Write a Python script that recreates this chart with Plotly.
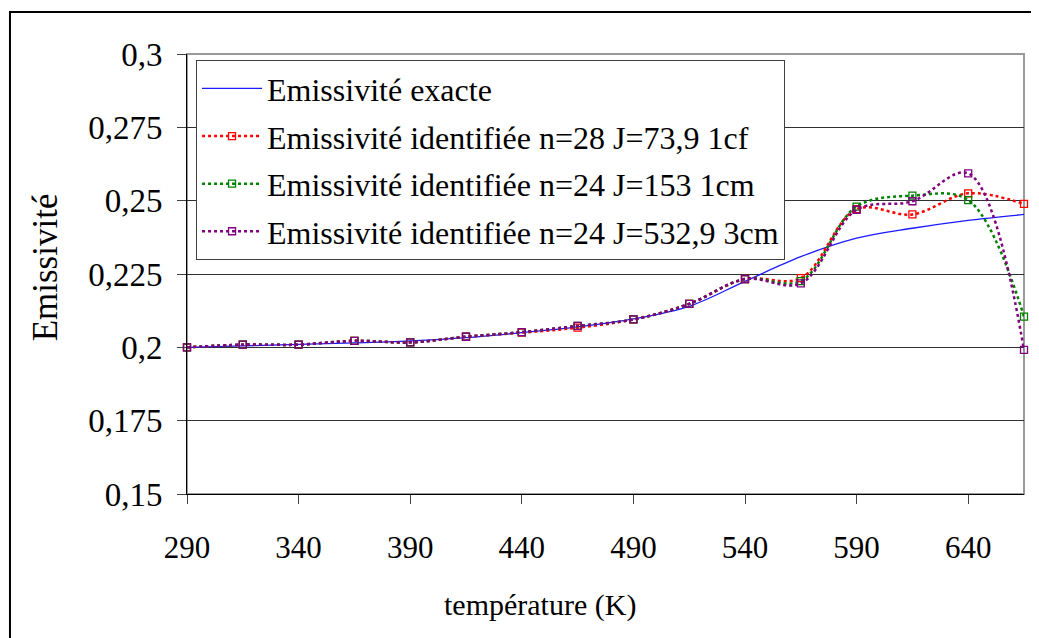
import plotly.graph_objects as go

# temperatures (K)
temperature = [290, 315, 340, 365, 390, 415, 440, 465, 490, 515, 540, 565, 590, 615, 640, 665]

exact = [0.2000, 0.2005, 0.2010, 0.2015, 0.2022, 0.2033, 0.2050, 0.2070, 0.2097, 0.2140,
         0.2225, 0.2309, 0.2372, 0.2406, 0.2433, 0.2453]
ident_28 = [0.2000, 0.2009, 0.2009, 0.2022, 0.2017, 0.2036, 0.2050, 0.2067, 0.2095, 0.2148,
            0.2233, 0.2236, 0.2471, 0.2453, 0.2525, 0.2489]
ident_24_1cm = [0.2000, 0.2009, 0.2009, 0.2022, 0.2017, 0.2036, 0.2052, 0.2073, 0.2095, 0.2148,
                0.2233, 0.2226, 0.2480, 0.2517, 0.2502, 0.2105]
ident_24_3cm = [0.2000, 0.2009, 0.2009, 0.2022, 0.2017, 0.2036, 0.2052, 0.2073, 0.2095, 0.2148,
                0.2233, 0.2218, 0.2469, 0.2498, 0.2593, 0.1991]

names = ['Emissivité exacte',
         'Emissivité identifiée n=28 J=73,9 1cf',
         'Emissivité identifiée n=24 J=153 1cm',
         'Emissivité identifiée n=24 J=532,9 3cm']

y_tick_vals = [0.15, 0.175, 0.2, 0.225, 0.25, 0.275, 0.3]
y_tick_text = ['0,15', '0,175', '0,2', '0,225', '0,25', '0,275', '0,3']
x_tick_vals = [290, 340, 390, 440, 490, 540, 590, 640]

FONT = 'Liberation Serif'

fig = go.Figure()
fig.add_trace(go.Scatter(x=temperature, y=exact, name=names[0], mode='lines',
                         line=dict(color='#1a1aff', width=1.3, shape='spline'),
                         legendgroup='a', cliponaxis=False))
series = [(ident_28, '#ff0000', 'b'), (ident_24_1cm, '#008000', 'c'), (ident_24_3cm, '#800080', 'd')]
for (vals, col, grp), nm in zip(series, names[1:]):
    fig.add_trace(go.Scatter(x=temperature, y=vals, name=nm, mode='lines+markers',
                             line=dict(color=col, width=2.5, dash='dot', shape='spline'),
                             marker=dict(symbol='square-open', size=7, color=col,
                                         line=dict(width=1.3, color=col)),
                             legendgroup=grp, cliponaxis=False))

# page has an 8px body margin, so the figure is 8px smaller than the window
fig.update_layout(
    width=1031, height=630,
    margin=dict(l=179, r=15, t=46, b=144),
    paper_bgcolor='white', plot_bgcolor='white',
    font=dict(family=FONT, size=32, color='black'),
    separators=', ',
    legend=dict(x=0.0108, y=0.986, xanchor='left', yanchor='top',
                bgcolor='white', bordercolor='#404040', borderwidth=1,
                font=dict(family=FONT, size=32, color='black'), traceorder='grouped',
                tracegroupgap=3, itemwidth=60),
    shapes=[
        dict(type='rect', xref='paper', yref='paper', x0=0, x1=1, y0=0, y1=1,
             line=dict(color='#9a9a9a', width=2), layer='below'),
        dict(type='rect', xref='paper', yref='paper', x0=-0.2115, x1=1.03, y0=-0.35, y1=1.0955,
             line=dict(color='black', width=2), layer='below'),
    ],
    annotations=[
        dict(text='température (K)', xref='paper', yref='paper', x=0.4217, y=-0.2523,
             xanchor='center', yanchor='middle', showarrow=False,
             font=dict(family=FONT, size=30, color='black')),
        dict(text='Emissivité', xref='paper', yref='paper', x=-0.168, y=0.516,
             xanchor='center', yanchor='middle', showarrow=False, textangle=-90,
             font=dict(family=FONT, size=35, color='black')),
    ],
)
fig.update_xaxes(range=[290, 665], tickvals=x_tick_vals, ticks='outside', ticklen=9,
                 tickcolor='#404040', showline=True, linecolor='black', linewidth=1,
                 showgrid=False, zeroline=False, ticklabelstandoff=17,
                 tickfont=dict(family=FONT, size=31, color='black'))
fig.update_yaxes(range=[0.15, 0.3], tickvals=y_tick_vals, ticktext=y_tick_text,
                 ticks='outside', ticklen=9, tickcolor='#404040',
                 showline=True, linecolor='black', linewidth=1,
                 showgrid=True, gridcolor='#303030', gridwidth=1, zeroline=False,
                 ticklabelstandoff=8,
                 tickfont=dict(family=FONT, size=33, color='black'))

fig.write_html('out.html')
